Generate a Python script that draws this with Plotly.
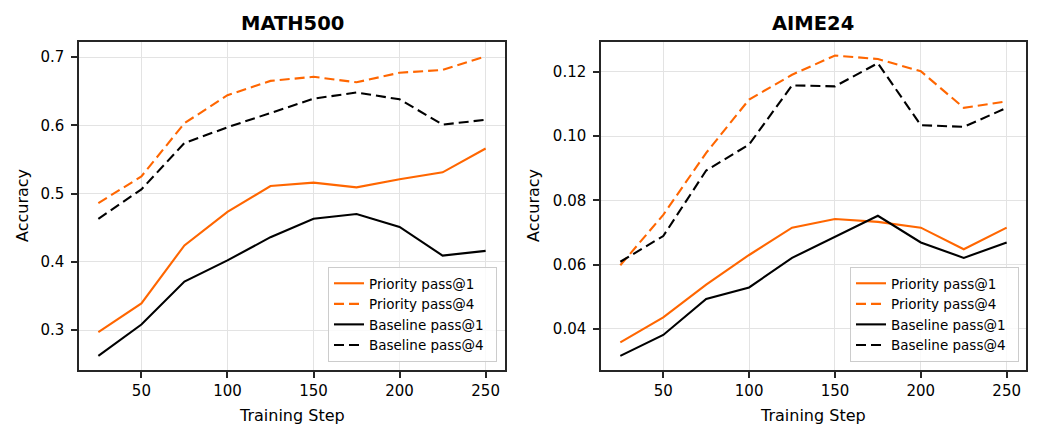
import plotly.graph_objects as go

# ---------------- data ----------------
steps = [25, 50, 75, 100, 125, 150, 175, 200, 225, 250]

math_priority_p1 = [0.297, 0.339, 0.424, 0.473, 0.511, 0.516, 0.509, 0.521, 0.531, 0.566]
math_priority_p4 = [0.486, 0.525, 0.603, 0.644, 0.665, 0.671, 0.663, 0.677, 0.681, 0.701]
math_baseline_p1 = [0.262, 0.308, 0.371, 0.402, 0.436, 0.463, 0.470, 0.451, 0.409, 0.416]
math_baseline_p4 = [0.463, 0.506, 0.574, 0.597, 0.618, 0.639, 0.648, 0.638, 0.601, 0.608]

aime_priority_p1 = [0.0358, 0.0436, 0.0538, 0.0630, 0.0715, 0.0742, 0.0733, 0.0715, 0.0648, 0.0715]
aime_priority_p4 = [0.0598, 0.0755, 0.0948, 0.1114, 0.1191, 0.1251, 0.1240, 0.1202, 0.1088, 0.1108]
aime_baseline_p1 = [0.0316, 0.0381, 0.0493, 0.0529, 0.0621, 0.0687, 0.0752, 0.0669, 0.0621, 0.0669]
aime_baseline_p4 = [0.0609, 0.0689, 0.0893, 0.0974, 0.1158, 0.1155, 0.1227, 0.1034, 0.1029, 0.1088]

series_names = ["Priority pass@1", "Priority pass@4", "Baseline pass@1", "Baseline pass@4"]
panel_titles = ["MATH500", "AIME24"]
x_ticks = [50, 100, 150, 200, 250]

# ---------------- style ----------------
ORANGE = "#ff6600"
BLACK = "#000000"
FONT = "DejaVu Sans"
W, H = 1041, 438
styles = [(ORANGE, "solid"), (ORANGE, "10px,5px"), (BLACK, "solid"), (BLACK, "10px,5px")]

fig = go.Figure()

panels = [
    ([math_priority_p1, math_priority_p4, math_baseline_p1, math_baseline_p4], "x", "y", "legend"),
    ([aime_priority_p1, aime_priority_p4, aime_baseline_p1, aime_baseline_p4], "x2", "y2", "legend2"),
]
for data, xa, ya, lg in panels:
    for name, vals, (col, dash) in zip(series_names, data, styles):
        fig.add_trace(go.Scatter(
            x=steps, y=vals, mode="lines", name=name + "\u2002",
            line=dict(color=col, width=2.1, dash=dash),
            xaxis=xa, yaxis=ya, legend=lg, showlegend=True,
        ))

axis_common = dict(
    showline=True, mirror=True, linecolor="#262626", linewidth=1.5,
    ticks="outside", ticklen=6, tickwidth=1.5, tickcolor="#262626",
    showgrid=True, gridcolor="#e3e3e3", gridwidth=1, zeroline=False,
    tickfont=dict(family=FONT, size=15, color="#000000"),
)

legend_common = dict(
    font=dict(family=FONT, size=13.5, color="#000000"),
    bordercolor="#cccccc", borderwidth=1, bgcolor="rgba(255,255,255,0.8)",
    xanchor="right", yanchor="bottom", tracegroupgap=0,
)

fig.update_layout(
    width=W, height=H,
    margin=dict(l=0, r=0, t=0, b=0),
    paper_bgcolor="white", plot_bgcolor="white",
    font=dict(family=FONT, color="#000000"),
    xaxis=dict(domain=[79 / W, 505 / W], range=[13.75, 261.25], tickvals=x_ticks, anchor="y", **axis_common),
    yaxis=dict(domain=[1 - 370 / H, 1 - 42 / H], range=[0.2414, 0.722], dtick=0.1, tickformat=".1f",
               anchor="x", ticklabelstandoff=4, **axis_common),
    xaxis2=dict(domain=[601 / W, 1026 / W], range=[13.75, 261.25], tickvals=x_ticks, anchor="y2", **axis_common),
    yaxis2=dict(domain=[1 - 370 / H, 1 - 42 / H], range=[0.0272, 0.1293], dtick=0.02, tickformat=".2f",
                anchor="x2", ticklabelstandoff=4, **axis_common),
    legend=dict(x=497 / W, y=1 - 362 / H, **legend_common),
    legend2=dict(x=1019 / W, y=1 - 362 / H, **legend_common),
    showlegend=True,
)

ann = []
# panel titles
for title, cx in zip(panel_titles, [292, 813]):
    ann.append(dict(text="<b>%s</b>" % title, x=cx / W, y=1 - 23 / H, xref="paper", yref="paper",
                    showarrow=False, xanchor="center", yanchor="middle",
                    font=dict(family=FONT, size=19.5, color="#000000")))
# x axis titles
for cx in [292, 813]:
    ann.append(dict(text="Training Step", x=cx / W, y=1 - 415 / H, xref="paper", yref="paper",
                    showarrow=False, xanchor="center", yanchor="middle",
                    font=dict(family=FONT, size=16, color="#000000")))
# y axis titles
for cx in [22, 533]:
    ann.append(dict(text="Accuracy", x=cx / W, y=1 - 206 / H, xref="paper", yref="paper",
                    showarrow=False, xanchor="center", yanchor="middle", textangle=-90,
                    font=dict(family=FONT, size=16, color="#000000")))
fig.update_layout(annotations=ann)

fig.write_html("out.html")
